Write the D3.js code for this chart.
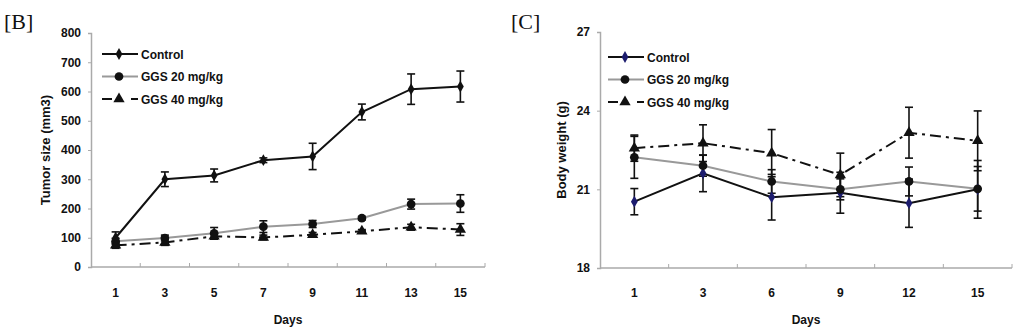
<!DOCTYPE html>
<html>
  <head>
    <meta charset="utf-8">
    <title>Tumor size and body weight</title>
    <script src="https://d3js.org/d3.v7.min.js"></script>
    <style>
      body { margin: 0; background: #fff; }
      text { font-family: "Liberation Sans", Arial, sans-serif; font-weight: bold; fill: #111; }
      .panel { font-family: "Liberation Serif", "Times New Roman", serif; font-weight: normal; }
    </style>
  </head>
  <body>
    <script>
      // panel B: tumor size
      var daysB = ["1", "3", "5", "7", "9", "11", "13", "15"];
      var tumorControl = [100, 300, 313, 365, 378, 530, 608, 617];
      var tumorControlErr = [20, 25, 22, 8, 45, 27, 52, 53];
      var tumorGgs20 = [88, 99, 115, 138, 147, 167, 215, 217];
      var tumorGgs20Err = [10, 10, 20, 20, 12, 6, 17, 30];
      var tumorGgs40 = [74, 84, 105, 101, 110, 122, 136, 128];
      var tumorGgs40Err = [10, 10, 10, 8, 8, 6, 10, 20];
      var tumorTicks = [0, 100, 200, 300, 400, 500, 600, 700, 800];

      // panel C: body weight
      var daysC = ["1", "3", "6", "9", "12", "15"];
      var weightControl = [20.53, 21.61, 20.70, 20.87, 20.47, 21.0];
      var weightControlErr = [0.5, 0.7, 0.87, 0.78, 0.92, 1.1];
      var weightGgs20 = [22.22, 21.9, 21.3, 21.0, 21.3, 21.02];
      var weightGgs20Err = [0.8, 0.4, 0.45, 0.4, 0.55, 0.85];
      var weightGgs40 = [22.57, 22.76, 22.38, 21.55, 23.16, 22.85];
      var weightGgs40Err = [0.5, 0.7, 0.9, 0.83, 0.97, 1.14];
      var weightTicks = [18, 21, 24, 27];

      var seriesNames = ["Control", "GGS 20 mg/kg", "GGS 40 mg/kg"];

      var svg = d3.select("body").append("svg")
        .attr("width", 1019)
        .attr("height", 329);

      function drawPanel(o) {
        var g = svg.append("g");

        var x = d3.scaleBand().domain(o.days).range([o.left, o.right]);
        var y = d3.scaleLinear().domain(o.yDomain).range([o.bottom, o.top]);
        var cx = function (d, i) { return x(o.days[i]) + x.bandwidth() / 2; };

        g.append("text").attr("class", "panel")
          .attr("x", o.labelX).attr("y", 29)
          .style("font-size", "22px")
          .text(o.label);

        // y axis
        var yAxis = g.append("g")
          .attr("transform", "translate(" + o.left + ",0)")
          .call(d3.axisLeft(y).tickValues(o.ticks).tickSize(3).tickPadding(7));
        yAxis.select(".domain").attr("stroke", "#aaa").attr("stroke-width", 1.5);
        yAxis.selectAll(".tick line").attr("stroke", "#aaa");
        yAxis.selectAll("text").style("font-size", "12px").style("font-family", "Liberation Sans, Arial").style("font-weight", "bold").attr("fill", "#111");

        // x axis with ticks on category boundaries
        g.append("line")
          .attr("x1", o.left).attr("x2", o.right)
          .attr("y1", o.bottom).attr("y2", o.bottom)
          .attr("stroke", "#aaa").attr("stroke-width", 1.5);
        g.selectAll(".xb").data(o.days)
          .enter().append("line")
            .attr("x1", function (d) { return x(d) + x.step(); })
            .attr("x2", function (d) { return x(d) + x.step(); })
            .attr("y1", o.bottom).attr("y2", o.bottom - 4)
            .attr("stroke", "#aaa");
        g.selectAll(".xl").data(o.days)
          .enter().append("text")
            .attr("x", function (d) { return x(d) + x.bandwidth() / 2; })
            .attr("y", 297)
            .attr("text-anchor", "middle")
            .style("font-size", "12px")
            .text(function (d) { return d; });

        g.append("text")
          .attr("x", (o.left + o.right) / 2).attr("y", 324)
          .attr("text-anchor", "middle")
          .style("font-size", "12px")
          .text("Days");
        g.append("text")
          .attr("transform", "translate(" + o.titleX + "," + ((o.top + o.bottom) / 2) + ") rotate(-90)")
          .attr("text-anchor", "middle")
          .style("font-size", "13px")
          .text(o.yTitle);

        var series = [
          { values: o.ctrl, err: o.ctrlErr, stroke: "#111", dash: null, marker: "diamond", fill: o.diamondFill },
          { values: o.g20, err: o.g20Err, stroke: "#999", dash: null, marker: "circle", fill: "#111" },
          { values: o.g40, err: o.g40Err, stroke: "#111", dash: "11,5,3,5", marker: "triangle", fill: "#111" }
        ];

        var line = d3.line().x(cx).y(function (d) { return y(d); });

        // error bars
        series.forEach(function (s) {
          s.values.forEach(function (v, i) {
            var px = cx(v, i);
            var y1 = y(v + s.err[i]), y2 = y(v - s.err[i]);
            g.append("line").attr("x1", px).attr("x2", px).attr("y1", y1).attr("y2", y2)
              .attr("stroke", "#111").attr("stroke-width", 1.6);
            [y1, y2].forEach(function (yy) {
              g.append("line").attr("x1", px - 4).attr("x2", px + 4).attr("y1", yy).attr("y2", yy)
                .attr("stroke", "#111").attr("stroke-width", 1.6);
            });
          });
        });

        // lines (gray line under the others)
        [1, 0, 2].forEach(function (k) {
          var s = series[k];
          g.append("path").datum(s.values)
            .attr("d", line)
            .attr("fill", "none")
            .attr("stroke", s.stroke)
            .attr("stroke-width", 2)
            .attr("stroke-dasharray", s.dash);
        });

        var sym = {
          diamond: d3.symbol().type(d3.symbolDiamond).size(40),
          circle: d3.symbol().type(d3.symbolCircle).size(60),
          triangle: d3.symbol().type(d3.symbolTriangle).size(55)
        };

        series.forEach(function (s) {
          g.selectAll(null).data(s.values)
            .enter().append("path")
              .attr("d", sym[s.marker])
              .attr("transform", function (d, i) { return "translate(" + cx(d, i) + "," + y(d) + ")"; })
              .attr("fill", s.fill);
        });

        // legend
        series.forEach(function (s, k) {
          var ly = o.legendY + k * 22.5;
          g.append("line")
            .attr("x1", o.legendX).attr("x2", o.legendX + 36)
            .attr("y1", ly).attr("y2", ly)
            .attr("stroke", s.stroke).attr("stroke-width", 2)
            .attr("stroke-dasharray", s.dash ? "10,19,7" : null);
          g.append("path")
            .attr("d", sym[s.marker])
            .attr("transform", "translate(" + (o.legendX + 17) + "," + ly + ")")
            .attr("fill", s.fill);
          g.append("text")
            .attr("x", o.legendX + 39).attr("y", ly + 4.5)
            .style("font-size", "12px")
            .text(seriesNames[k]);
        });
      }

      drawPanel({
        label: "[B]", labelX: 4,
        days: daysB, left: 91, right: 485, top: 33, bottom: 267,
        yDomain: [0, 800], ticks: tumorTicks,
        yTitle: "Tumor size (mm3)", titleX: 50,
        ctrl: tumorControl, ctrlErr: tumorControlErr,
        g20: tumorGgs20, g20Err: tumorGgs20Err,
        g40: tumorGgs40, g40Err: tumorGgs40Err,
        diamondFill: "#111",
        legendX: 102, legendY: 54
      });

      drawPanel({
        label: "[C]", labelX: 511,
        days: daysC, left: 600, right: 1012, top: 32, bottom: 268,
        yDomain: [18, 27], ticks: weightTicks,
        yTitle: "Body weight (g)", titleX: 566,
        ctrl: weightControl, ctrlErr: weightControlErr,
        g20: weightGgs20, g20Err: weightGgs20Err,
        g40: weightGgs40, g40Err: weightGgs40Err,
        diamondFill: "#1c1c6e",
        legendX: 608, legendY: 57
      });
    </script>
  </body>
</html>
